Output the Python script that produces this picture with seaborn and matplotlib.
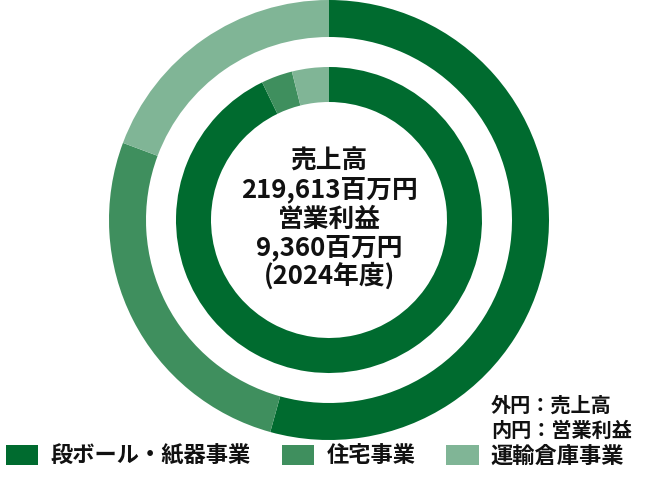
import matplotlib
matplotlib.use("Agg")
import matplotlib.pyplot as plt
import seaborn as sns
from matplotlib.patches import Patch

# Data (shares in %)
segments = ["段ボール・紙器事業", "住宅事業", "運輸倉庫事業"]
sales_share = [54.3, 26.4, 19.3]      # outer ring: 売上高
profit_share = [92.8, 3.3, 3.9]       # inner ring: 営業利益
colors = ["#006B2F", "#3F8F5E", "#80B596"]
center_lines = ["売上高", "219,613百万円", "営業利益", "9,360百万円", "(2024年度)"]
note_lines = ["外円：売上高", "内円：営業利益"]

sns.set_theme(style="white")
plt.rcParams['font.family'] = ['Noto Sans CJK JP', 'DejaVu Sans']

W, H = 650, 500
fig = plt.figure(figsize=(W / 100, H / 100), dpi=100)
cx, cy, R = 329, 220, 220
ax = fig.add_axes([(cx - R) / W, (H - cy - R) / H, 2 * R / W, 2 * R / H])
ax.set_aspect("equal")
ax.axis("off")

ax.pie(sales_share, radius=1.0, colors=colors, startangle=90, counterclock=False,
       wedgeprops=dict(width=37 / R, linewidth=0))
ax.pie(profit_share, radius=153 / R, colors=colors, startangle=90, counterclock=False,
       wedgeprops=dict(width=35 / R, linewidth=0))
ax.set_xlim(-1, 1)
ax.set_ylim(-1, 1)

ys = [161, 190, 219, 248, 276]
for txt, y in zip(center_lines, ys):
    fig.text(cx / W, 1 - y / H, txt, ha="center", va="center",
             fontsize=18.5, fontweight="bold", color="#111111")

for txt, y in zip(note_lines, [405, 430]):
    fig.text(491 / W, 1 - y / H, txt, ha="left", va="center",
             fontsize=14.5, fontweight="bold", color="#111111")

handles = [Patch(facecolor=c, edgecolor="none", label=s) for c, s in zip(colors, segments)]
leg = fig.legend(handles=handles, loc="center", bbox_to_anchor=(0.485, 1 - 456 / H),
                 ncol=3, frameon=False, fontsize=16, handlelength=1.45, handleheight=1.0,
                 handletextpad=0.55, columnspacing=1.4, borderaxespad=0, borderpad=0)
for t in leg.get_texts():
    t.set_fontweight("bold")
    t.set_color("#111111")

fig.savefig("out.png", dpi=100)
